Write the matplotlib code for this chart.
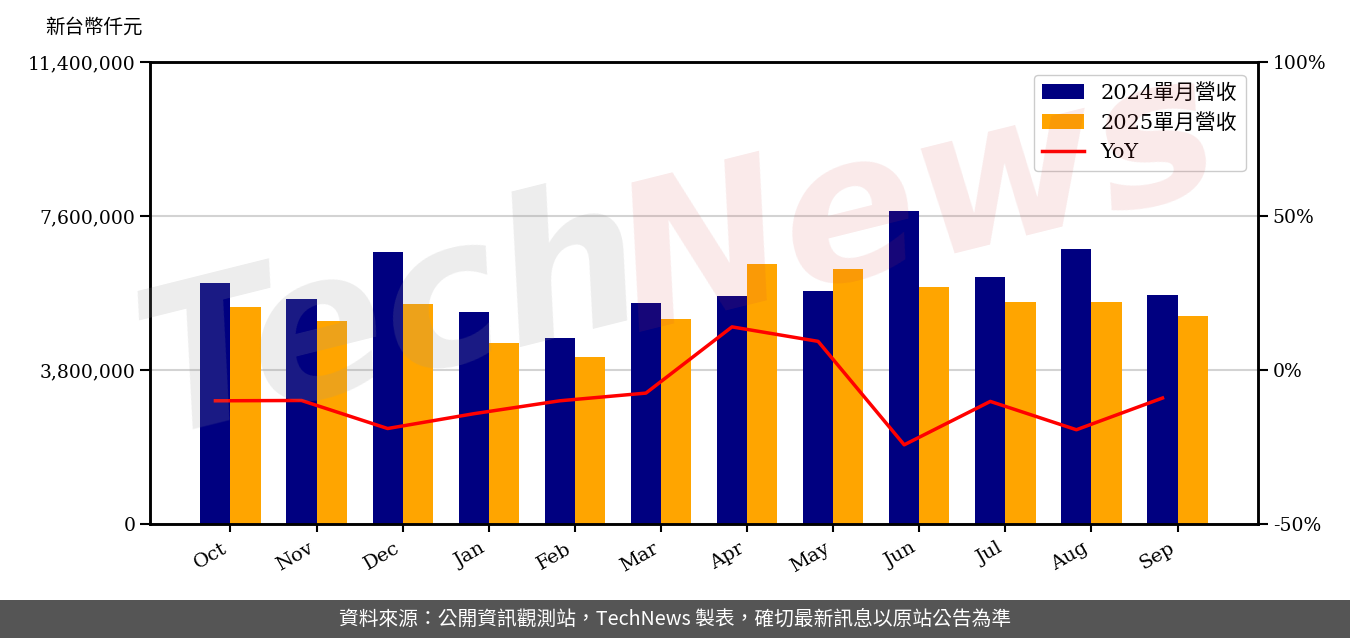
import numpy as np
import matplotlib.pyplot as plt
from matplotlib.ticker import FuncFormatter
from matplotlib.patches import Rectangle

months = ['Oct', 'Nov', 'Dec', 'Jan', 'Feb', 'Mar', 'Apr', 'May', 'Jun', 'Jul', 'Aug', 'Sep']
rev_2024 = [5947000, 5552000, 6712000, 5231000, 4590000, 5453000,
            5626000, 5749000, 7723000, 6095000, 6786000, 5651000]
rev_2025 = [5355000, 5009000, 5429000, 4466000, 4121000, 5058000,
            6416000, 6292000, 5848000, 5478000, 5478000, 5132000]
yoy = [-10.0, -9.9, -19.0, -14.2, -10.0, -7.5, 14.0, 9.3, -24.3, -10.2, -19.4, -9.1]

left_ticks = [0, 3800000, 7600000, 11400000]
right_ticks = [-50, 0, 50, 100]

plt.rcParams['font.family'] = ['DejaVu Serif', 'Noto Sans CJK TC']

fig = plt.figure(figsize=(13.5, 6.38), dpi=100)
ax = fig.add_axes([0.1111, 0.1787, 0.8208, 0.7241])

x = np.arange(len(months))
w = 0.35
ax.bar(x - w / 2, rev_2024, w, color='#000080', label='2024單月營收', zorder=2)
ax.bar(x + w / 2, rev_2025, w, color='#ffa500', label='2025單月營收', zorder=2)

ax.set_ylim(0, 11400000)
ax.set_yticks(left_ticks)
ax.yaxis.set_major_formatter(FuncFormatter(lambda v, p: '{:,.0f}'.format(v)))
ax.yaxis.grid(True, color='#d3d3d3', linewidth=1.5, zorder=0)
ax.set_axisbelow(True)
ax.set_xticks(x)
ax.set_xticklabels(months, rotation=30, ha='right', fontsize=14)
ax.tick_params(axis='y', labelsize=13.5, length=7, width=1.5)
ax.tick_params(axis='x', length=6, width=1.5, pad=5)

ax2 = ax.twinx()
ax2.plot(x - w / 2, yoy, color='red', linewidth=2.5, label='YoY', zorder=3)
ax2.set_ylim(-50, 100)
ax2.set_yticks(right_ticks)
ax2.yaxis.set_major_formatter(FuncFormatter(lambda v, p: '{:.0f}%'.format(v)))
ax2.tick_params(axis='y', labelsize=13.5, length=7, width=1.5)

for a in (ax, ax2):
    for s in a.spines.values():
        s.set_linewidth(1.8)

h1, l1 = ax.get_legend_handles_labels()
h2, l2 = ax2.get_legend_handles_labels()
leg = ax2.legend(h1 + h2, l1 + l2, loc='upper right', fontsize=15,
                 borderaxespad=0.6, handlelength=2.0, framealpha=1)
leg.get_frame().set_edgecolor('#cccccc')

fig.text(0.0333, 0.957, '新台幣仟元', fontsize=14, ha='left', va='center')

# watermark
fig.text(0.29, 0.50, 'Tech', fontsize=145, fontweight='bold', style='italic',
         family='DejaVu Sans', color='#999999', alpha=0.18, rotation=14,
         ha='center', va='center', zorder=10)
fig.text(0.68, 0.68, 'News', fontsize=145, fontweight='bold', style='italic',
         family='DejaVu Sans', color='#d04040', alpha=0.11, rotation=14,
         ha='center', va='center', zorder=10)

# footer
fig.patches.append(Rectangle((0, 0), 1, 38 / 638, transform=fig.transFigure,
                             facecolor='#555555', edgecolor='none', zorder=0))
fig.text(0.5, 19 / 638, '資料來源：公開資訊觀測站，TechNews 製表，確切最新訊息以原站公告為準',
         family=['Noto Sans CJK TC', 'DejaVu Sans'], fontsize=14.2, color='white',
         ha='center', va='center')

fig.savefig('out.png', dpi=100)
